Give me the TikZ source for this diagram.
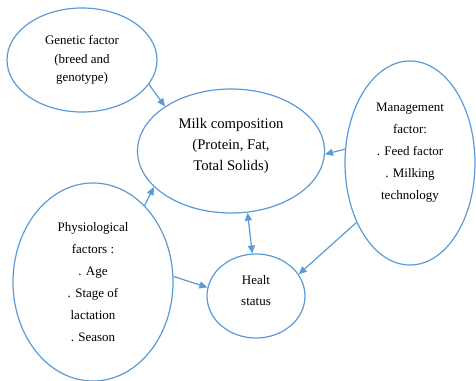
\documentclass[tikz,border=0pt]{standalone}
\usepackage{fontspec}
\setmainfont{Liberation Serif}
\usetikzlibrary{shapes.geometric,arrows.meta}

\definecolor{lineblue}{RGB}{91,155,213}

\begin{document}
\begin{tikzpicture}[x=1pt,y=-1pt,
    factor/.style={ellipse, draw=lineblue, line width=1.2pt, inner sep=0pt, align=center,
      font=\fontsize{13}{21}\selectfont},
    link/.style={draw=lineblue, line width=1.2pt, -{Triangle[length=8pt,width=7pt]}}]
  \useasboundingbox (0,0) rectangle (476,380);
  % ellipses
  \node[factor, minimum width=150pt, minimum height=104pt, font=\fontsize{13}{18.5}\selectfont] (genetic) at (82,60)
    {Genetic factor\\(breed and\\genotype)};
  \node[factor, minimum width=187pt, minimum height=124pt] (milk) at (231,151) {};
  \node[font=\fontsize{14.7}{21}\selectfont, align=center] (milktext) at (231,146)
    {Milk composition\\(Protein, Fat,\\Total Solids)};
  \node[factor, minimum width=130pt, minimum height=204pt] (manage) at (410,163) {};
  \node[font=\fontsize{13}{22}\selectfont, align=center] (managetext) at (410,153)
    {Management\\factor:\\. Feed factor\\. Milking\\technology};
  \node[factor, minimum width=160pt, minimum height=198pt, font=\fontsize{13}{22}\selectfont] (physio) at (93,282)
    {Physiological\\factors :\\. Age\\. Stage of\\lactation\\. Season};
  \node[factor, minimum width=98pt, minimum height=84pt] (health) at (256,296) {};
  \node[font=\fontsize{13}{21}\selectfont, align=center] (healthtext) at (256,291) {Healt\\status};
  % arrows
  \draw[link] (genetic.-20) -- (milk.146);
  \draw[link] (physio.56) -- (milk.205);
  \draw[link] (physio.4) -- (health.170);
  \draw[link] (manage.168) -- (milk.-2);
  \draw[link] (manage.228) -- (health.27);
  \draw[link, {Triangle[length=8pt,width=7pt]}-{Triangle[length=8pt,width=7pt]}] (milk.-75) -- (health.95);
\end{tikzpicture}
\end{document}
